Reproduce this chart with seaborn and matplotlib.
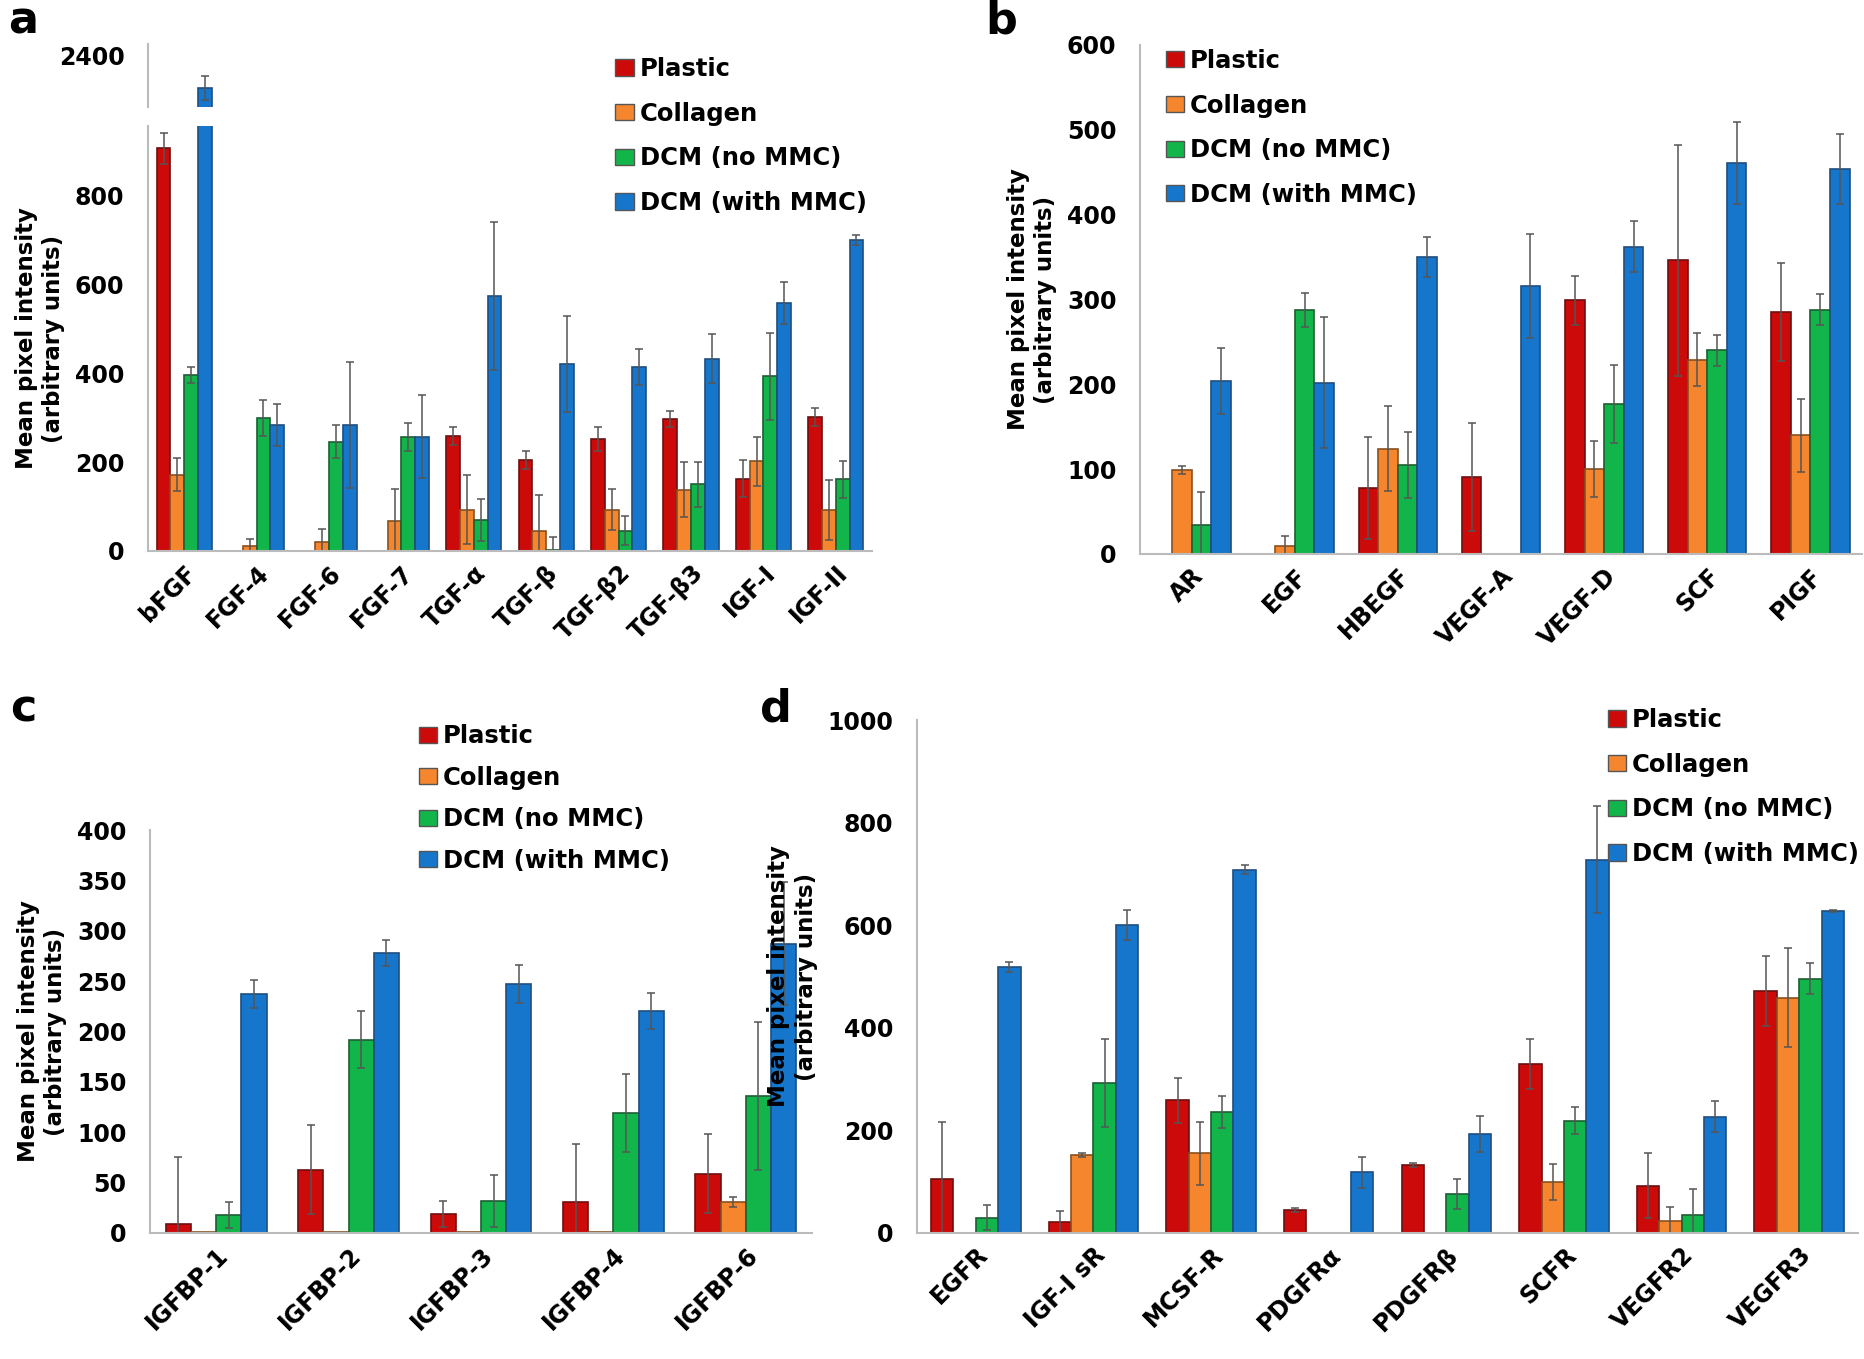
import numpy as np
import pandas as pd
import matplotlib
matplotlib.use("Agg")
import matplotlib.pyplot as plt
import seaborn as sns

# condicoes e cores
condicoes = ['Plastic', 'Collagen', 'DCM (no MMC)', 'DCM (with MMC)']
cores = ['#CC0A0A', '#F5862E', '#12B54A', '#1576CC']
bordas = ['#6E1010', '#8A5020', '#1E5E32', '#1E4E7E']

# painel a
cat_a = ['bFGF', 'FGF-4', 'FGF-6', 'FGF-7', 'TGF-α', 'TGF-β', 'TGF-β2', 'TGF-β3', 'IGF-I', 'IGF-II']
plastic_a = [906, 0, 0, 0, 259, 205, 252, 297, 163, 301]
collagen_a = [172, 12, 20, 67, 93, 46, 93, 138, 202, 92]
dcm_a = [397, 299, 246, 257, 69, 2, 46, 150, 393, 161]
dcm_mmc_a = [2327, 283, 283, 257, 574, 420, 414, 433, 558, 700]
err_plastic_a = [35, 0, 0, 0, 21, 20, 26, 18, 42, 20]
err_collagen_a = [37, 16, 29, 72, 78, 81, 46, 62, 55, 67]
err_dcm_a = [18, 40, 37, 32, 47, 30, 33, 50, 98, 41]
err_dcm_mmc_a = [27, 47, 142, 93, 167, 108, 41, 56, 48, 11]

# painel b
cat_b = ['AR', 'EGF', 'HBEGF', 'VEGF-A', 'VEGF-D', 'SCF', 'PIGF']
plastic_b = [0, 0, 78, 91, 299, 346, 285]
collagen_b = [99, 9, 124, 0, 100, 229, 140]
dcm_b = [34, 288, 105, 0, 177, 240, 288]
dcm_mmc_b = [204, 202, 350, 316, 362, 461, 454]
err_plastic_b = [0, 0, 60, 64, 29, 136, 58]
err_collagen_b = [5, 12, 50, 0, 33, 31, 43]
err_dcm_b = [39, 20, 39, 0, 46, 18, 18]
err_dcm_mmc_b = [39, 77, 24, 61, 30, 48, 41]

# painel c
cat_c = ['IGFBP-1', 'IGFBP-2', 'IGFBP-3', 'IGFBP-4', 'IGFBP-6']
plastic_c = [9, 63, 19, 31, 59]
collagen_c = [1, 1, 1, 1, 31]
dcm_c = [18, 192, 32, 119, 136]
dcm_mmc_c = [237, 278, 247, 220, 287]
err_plastic_c = [66, 44, 13, 57, 39]
err_collagen_c = [0, 0, 0, 0, 5]
err_dcm_c = [13, 28, 26, 39, 73]
err_dcm_mmc_c = [14, 13, 19, 18, 61]

# painel d
cat_d = ['EGFR', 'IGF-I sR', 'MCSF-R', 'PDGFRα', 'PDGFRβ', 'SCFR', 'VEGFR2', 'VEGFR3']
plastic_d = [106, 21, 259, 45, 133, 329, 92, 471]
collagen_d = [0, 152, 155, 0, 0, 99, 24, 459]
dcm_d = [30, 292, 236, 0, 76, 219, 36, 496]
dcm_mmc_d = [519, 601, 708, 118, 193, 728, 227, 627]
err_plastic_d = [111, 21, 44, 4, 4, 49, 63, 68]
err_collagen_d = [0, 4, 62, 0, 0, 35, 27, 96]
err_dcm_d = [25, 86, 31, 0, 30, 26, 49, 30]
err_dcm_mmc_d = [10, 29, 9, 30, 35, 105, 30, 2]

TAM_TICK = 17
TAM_LEG = 17.5


def monta_df(categorias, series):
    linhas = []
    for cond, valores in zip(condicoes, series):
        for cat, v in zip(categorias, valores):
            linhas.append({'cat': cat, 'cond': cond, 'valor': v})
    return pd.DataFrame(linhas)


def desenha(ax, categorias, series, erros):
    df = monta_df(categorias, series)
    sns.barplot(data=df, x='cat', y='valor', hue='cond', hue_order=condicoes,
                palette=cores, width=0.76, errorbar=None, ax=ax, legend=True,
                saturation=1)
    # bordas e barras de erro
    conts = list(ax.containers)
    for i, cont in enumerate(conts):
        for j, p in enumerate(cont.patches):
            p.set_edgecolor(bordas[i])
            p.set_linewidth(1.2)
            v = series[i][j]
            e = erros[i][j]
            if e > 0:
                xc = p.get_x() + p.get_width() / 2
                ax.errorbar(xc, v, yerr=e, fmt='none', ecolor='#555555',
                            elinewidth=1.1, capsize=3, capthick=1.1)
    ax.set_xlabel('')
    ax.set_ylabel('')
    sns.despine(ax=ax)
    for s in ['left', 'bottom']:
        ax.spines[s].set_color('#BBBBBB')
        ax.spines[s].set_linewidth(1.5)
    n = len(categorias)
    ax.set_xlim(-0.5, n - 0.5)
    ax.set_xticks(range(n))
    ax.set_xticks(np.arange(-0.5, n, 1.0), minor=True)
    ax.tick_params(axis='x', which='major', length=0, pad=7)
    ax.tick_params(axis='x', which='minor', length=6, color='#BBBBBB', width=1.2)
    ax.tick_params(axis='y', length=5, color='#BBBBBB', width=1.2, pad=12)
    ax.set_xticklabels(categorias, rotation=45, ha='right', rotation_mode='anchor',
                       fontsize=17, fontweight='bold')
    for t in ax.get_yticklabels():
        t.set_fontsize(TAM_TICK)
        t.set_fontweight('bold')


def legenda(ax, fig, x, y, esp=0.85):
    h, l = ax.get_legend_handles_labels()
    leg = ax.legend(h, l, loc='upper left', bbox_to_anchor=(x, y), bbox_transform=fig.transFigure,
                    frameon=False, prop={'weight': 'bold', 'size': TAM_LEG}, handlelength=0.75,
                    handleheight=0.65, handletextpad=0.25, labelspacing=esp, borderpad=0,
                    borderaxespad=0)
    for hd in leg.legend_handles:
        hd.set_edgecolor('#555555')
        hd.set_linewidth(1.0)


def rotulo_y(ax):
    ax.set_ylabel('Mean pixel intensity\n(arbitrary units)', fontsize=16.5,
                  fontweight='bold', labelpad=7, linespacing=1.25)


sns.set_style('white')
plt.rcParams['font.family'] = ['DejaVu Sans']
plt.rcParams['text.color'] = 'black'
plt.rcParams['axes.labelcolor'] = 'black'
plt.rcParams['xtick.labelcolor'] = 'black'
plt.rcParams['ytick.labelcolor'] = 'black'

W, H = 1865, 1359
fig = plt.figure(figsize=(W / 100, H / 100), dpi=100)


def caixa(x0, y0, x1, y1):
    # coordenadas em pixels (origem no topo) -> fracao da figura
    return [x0 / W, 1 - y1 / H, (x1 - x0) / W, (y1 - y0) / H]


# painel a (eixo quebrado)
ax_a = fig.add_axes(caixa(148, 126, 872, 551))
ax_a_top = fig.add_axes(caixa(148, 44, 872, 107))
ax_a_top.patch.set_visible(False)
series_a = [plastic_a, collagen_a, dcm_a, dcm_mmc_a]
erros_a = [err_plastic_a, err_collagen_a, err_dcm_a, err_dcm_mmc_a]
desenha(ax_a, cat_a, series_a, erros_a)
ax_a.set_ylim(0, 956)
ax_a.set_yticks([0, 200, 400, 600, 800])
desenha(ax_a_top, cat_a, series_a, erros_a)
ax_a_top.get_legend().remove()
ax_a_top.set_ylim(2285, 2427)
ax_a_top.set_yticks([2400])
for t in ax_a_top.get_yticklabels():
    t.set_fontsize(TAM_TICK)
    t.set_fontweight('bold')
ax_a_top.spines['bottom'].set_visible(False)
ax_a_top.set_xticks([])
ax_a_top.set_xticks([], minor=True)
rotulo_y(ax_a)
legenda(ax_a, fig, 0.330, 0.958)

# painel b
ax_b = fig.add_axes(caixa(1140, 45, 1862, 554))
desenha(ax_b, cat_b, [plastic_b, collagen_b, dcm_b, dcm_mmc_b],
        [err_plastic_b, err_collagen_b, err_dcm_b, err_dcm_mmc_b])
ax_b.set_ylim(0, 600)
ax_b.set_yticks(range(0, 601, 100))
rotulo_y(ax_b)
legenda(ax_b, fig, 0.625, 0.964)

# painel c
ax_c = fig.add_axes(caixa(150, 830, 812, 1233))
desenha(ax_c, cat_c, [plastic_c, collagen_c, dcm_c, dcm_mmc_c],
        [err_plastic_c, err_collagen_c, err_dcm_c, err_dcm_mmc_c])
ax_c.set_ylim(0, 400)
ax_c.set_yticks(range(0, 401, 50))
rotulo_y(ax_c)
legenda(ax_c, fig, 0.2245, 0.467, esp=0.72)

# painel d
ax_d = fig.add_axes(caixa(917, 720, 1858, 1233))
desenha(ax_d, cat_d, [plastic_d, collagen_d, dcm_d, dcm_mmc_d],
        [err_plastic_d, err_collagen_d, err_dcm_d, err_dcm_mmc_d])
ax_d.set_ylim(0, 1000)
ax_d.set_yticks(range(0, 1001, 200))
rotulo_y(ax_d)
legenda(ax_d, fig, 0.862, 0.479)

# letras dos paineis
for letra, x, y in [('a', 8, 0), ('b', 985, 0), ('c', 10, 688), ('d', 760, 688)]:
    fig.text(x / W, 1 - y / H, letra, fontsize=32, fontweight='bold', va='top', ha='left')

fig.savefig('out.png', dpi=100)
